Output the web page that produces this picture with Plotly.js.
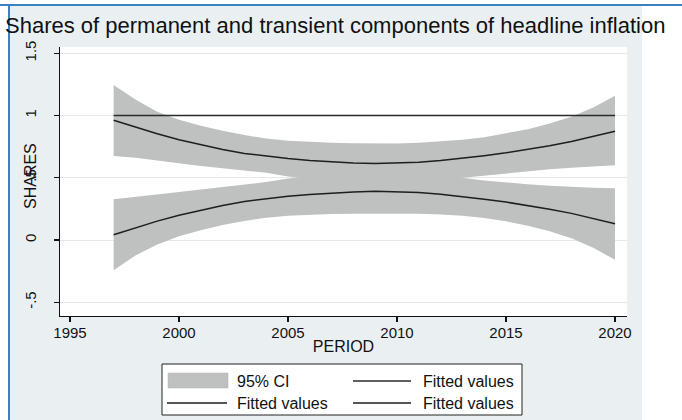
<!DOCTYPE html>
<html>
<head>
<meta charset="utf-8">
<script src="https://cdn.plot.ly/plotly-3.0.1.min.js"></script>
<style>html,body{margin:0;padding:0;background:#fff;}#chart{width:682px;height:420px;}</style>
</head>
<body>
<div id="chart"></div>
<script>
// ---- data ----
var years = [1997,1998,1999,2000,2001,2002,2003,2004,2005,2006,2007,2008,2009,2010,2011,2012,2013,2014,2015,2016,2017,2018,2019,2020];
var reference = [1,1,1,1,1,1,1,1,1,1,1,1,1,1,1,1,1,1,1,1,1,1,1,1];
var upperFit = [0.962,0.905,0.853,0.806,0.764,0.727,0.695,0.672,0.654,0.639,0.627,0.619,0.614,0.616,0.624,0.638,0.656,0.677,0.700,0.727,0.757,0.791,0.830,0.874];
var upperCIHi = [1.245,1.128,1.030,0.965,0.918,0.877,0.843,0.815,0.797,0.788,0.781,0.777,0.775,0.776,0.781,0.790,0.805,0.826,0.855,0.890,0.935,0.990,1.065,1.158];
var upperCILo = [0.675,0.660,0.638,0.615,0.595,0.577,0.560,0.540,0.510,0.490,0.472,0.461,0.455,0.456,0.465,0.480,0.500,0.518,0.535,0.552,0.568,0.580,0.591,0.600];
var lowerFit = [0.043,0.100,0.152,0.199,0.241,0.278,0.310,0.333,0.351,0.366,0.378,0.386,0.391,0.389,0.381,0.367,0.349,0.328,0.305,0.278,0.248,0.214,0.175,0.131];
var lowerCIHi = [0.327,0.345,0.365,0.385,0.405,0.425,0.443,0.465,0.494,0.515,0.532,0.543,0.549,0.549,0.540,0.523,0.500,0.479,0.462,0.447,0.436,0.427,0.420,0.415];
var lowerCILo = [-0.242,-0.125,-0.036,0.030,0.078,0.120,0.153,0.178,0.195,0.204,0.209,0.212,0.213,0.212,0.211,0.206,0.195,0.176,0.150,0.115,0.070,0.014,-0.062,-0.158];
var xTicks = [1995,2000,2005,2010,2015,2020];
var yTicks = [-0.5,0,0.5,1,1.5];
var yTickLabels = ["-.5","0",".5","1","1.5"];
var legendLabels = ["95% CI","Fitted values","Fitted values","Fitted values"];
var titleText = "Shares of permanent and transient components of headline inflation";
var xTitle = "PERIOD";
var yTitle = "SHARES";

// ---- styling / layout ----
var FONT = "Liberation Sans, Arial, Helvetica, sans-serif";
var ciColor = "#bfc0c0";
var lineColor = "#1e1e1e";
var W = 682, H = 420;
var L = 60, R = 627, T = 47, B = 316;
function X(px){ return (px - L) / (R - L); }
function Y(py){ return (B - py) / (B - T); }

var traces = [
  {x: years, y: upperCILo, type: "scatter", mode: "lines", line: {width: 0, color: ciColor}, hoverinfo: "skip", showlegend: false},
  {x: years, y: upperCIHi, type: "scatter", mode: "lines", fill: "tonexty", fillcolor: ciColor, line: {width: 0, color: ciColor}, name: legendLabels[0], showlegend: false},
  {x: years, y: lowerCILo, type: "scatter", mode: "lines", line: {width: 0, color: ciColor}, hoverinfo: "skip", showlegend: false},
  {x: years, y: lowerCIHi, type: "scatter", mode: "lines", fill: "tonexty", fillcolor: ciColor, line: {width: 0, color: ciColor}, hoverinfo: "skip", showlegend: false},
  {x: years, y: reference, type: "scatter", mode: "lines", line: {width: 1.5, color: "#2a2a2a"}, name: legendLabels[1], showlegend: false},
  {x: years, y: upperFit, type: "scatter", mode: "lines", line: {width: 1.5, color: lineColor}, name: legendLabels[2], showlegend: false},
  {x: years, y: lowerFit, type: "scatter", mode: "lines", line: {width: 1.5, color: lineColor}, name: legendLabels[3], showlegend: false}
];

var shapes = [
  // white surroundings of the screenshot frame
  {type: "rect", xref: "paper", yref: "paper", x0: X(0), x1: X(9), y0: Y(420), y1: Y(0), fillcolor: "#ffffff", line: {width: 0}, layer: "below"},
  {type: "rect", xref: "paper", yref: "paper", x0: X(0), x1: X(682), y0: Y(5), y1: Y(0), fillcolor: "#ffffff", line: {width: 0}, layer: "below"},
  {type: "rect", xref: "paper", yref: "paper", x0: X(642), x1: X(682), y0: Y(420), y1: Y(5), fillcolor: "#ffffff", line: {width: 0}, layer: "below"},
  {type: "line", xref: "paper", yref: "paper", x0: X(0), x1: X(682), y0: Y(5), y1: Y(5), line: {color: "#3b7fc6", width: 2}},
  {type: "line", xref: "paper", yref: "paper", x0: X(9), x1: X(9), y0: Y(5), y1: Y(420), line: {color: "#3b7fc6", width: 2}},
  // legend
  {type: "rect", xref: "paper", yref: "paper", x0: X(162), x1: X(522), y0: Y(415), y1: Y(364), fillcolor: "#ffffff", line: {color: "#222", width: 1}},
  {type: "rect", xref: "paper", yref: "paper", x0: X(168), x1: X(228), y0: Y(388), y1: Y(373), fillcolor: ciColor, line: {color: "#b0b0b0", width: 0.5}},
  {type: "line", xref: "paper", yref: "paper", x0: X(353), x1: X(411), y0: Y(381), y1: Y(381), line: {color: "#2a2a2a", width: 1.4}},
  {type: "line", xref: "paper", yref: "paper", x0: X(167), x1: X(227), y0: Y(403), y1: Y(403), line: {color: lineColor, width: 1.4}},
  {type: "line", xref: "paper", yref: "paper", x0: X(353), x1: X(411), y0: Y(403), y1: Y(403), line: {color: lineColor, width: 1.4}}
];

var annFont = {family: FONT, size: 16, color: "#111"};
var annotations = [
  {xref: "paper", yref: "paper", x: X(30), y: Y(176), text: yTitle, textangle: -90, showarrow: false, xanchor: "center", yanchor: "middle", font: {family: FONT, size: 16, color: "#111"}},
  {xref: "paper", yref: "paper", x: X(235), y: Y(381), text: legendLabels[0], showarrow: false, xanchor: "left", yanchor: "middle", font: annFont},
  {xref: "paper", yref: "paper", x: X(421), y: Y(381), text: legendLabels[1], showarrow: false, xanchor: "left", yanchor: "middle", font: annFont},
  {xref: "paper", yref: "paper", x: X(235), y: Y(403), text: legendLabels[2], showarrow: false, xanchor: "left", yanchor: "middle", font: annFont},
  {xref: "paper", yref: "paper", x: X(421), y: Y(403), text: legendLabels[3], showarrow: false, xanchor: "left", yanchor: "middle", font: annFont}
];

var layout = {
  width: W, height: H,
  margin: {l: L, r: W - R, t: T, b: H - B, pad: 0},
  paper_bgcolor: "#eaf0f2",
  plot_bgcolor: "#ffffff",
  showlegend: false,
  font: {family: FONT, color: "#111"},
  title: {text: titleText, x: 5 / W, xanchor: "left", xref: "container", y: 1 - 25 / H, yanchor: "middle", yref: "container", font: {family: FONT, size: 22, color: "#111"}},
  xaxis: {
    range: [1994.54, 2020.55], tickmode: "array", tickvals: xTicks, ticktext: xTicks.map(String),
    showgrid: false, zeroline: false, showline: true, linecolor: "#111", linewidth: 1.2,
    ticks: "outside", ticklen: 5, tickcolor: "#111", tickwidth: 1.2,
    tickfont: {family: FONT, size: 15, color: "#111"},
    ticklabelstandoff: -2,
    title: {text: xTitle, standoff: 0, font: {family: FONT, size: 16, color: "#111"}},
    automargin: false, fixedrange: true
  },
  yaxis: {
    range: [-0.61, 1.55], tickmode: "array", tickvals: yTicks, ticktext: yTickLabels, tickangle: -90,
    showgrid: true, gridcolor: "#e8e8e8", gridwidth: 1, zeroline: false,
    showline: true, linecolor: "#111", linewidth: 1.2,
    ticks: "outside", ticklen: 5, tickcolor: "#111", tickwidth: 1.2,
    tickfont: {family: FONT, size: 15, color: "#111"},
    ticklabelstandoff: 12,
    automargin: false, fixedrange: true
  },
  shapes: shapes,
  annotations: annotations
};

Plotly.newPlot("chart", traces, layout, {displayModeBar: false, staticPlot: true});
</script>
</body>
</html>
